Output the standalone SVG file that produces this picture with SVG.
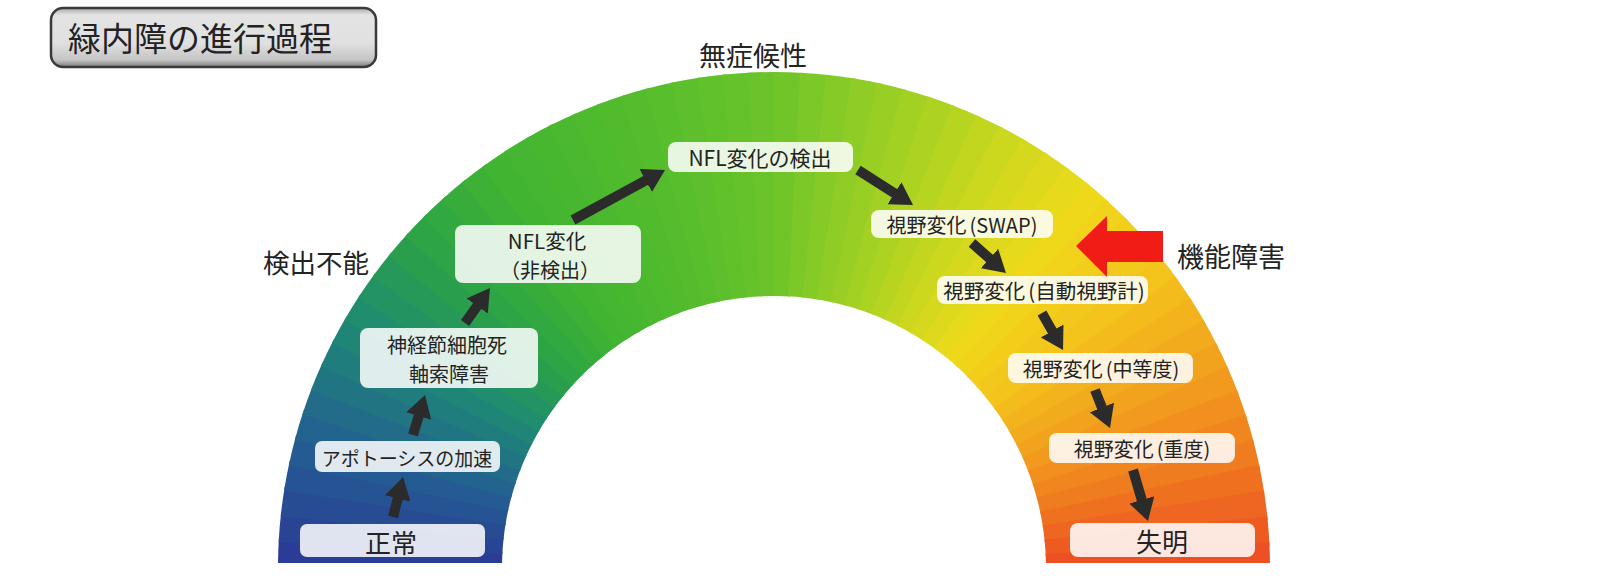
<svg xmlns="http://www.w3.org/2000/svg" width="1600" height="576" viewBox="0 0 1600 576">
<style>
.box{fill:#ffffff;fill-opacity:0.86}
.t{font-family:"Noto Sans CJK JP","Noto Sans",sans-serif;fill:#232323;text-anchor:middle;dominant-baseline:central}
.arrow{stroke:#2b2b2b;stroke-width:10;fill:none;marker-end:url(#ah)}
</style>
<defs>
<path id="w" d="M-496,0A496,496 0 0 1 -495.07,-30.28L-271.49,-16.61A272,272 0 0 0 -272,0Z"/>
<clipPath id="cl"><rect x="0" y="0" width="1600" height="563"/></clipPath>
<marker id="ah" markerUnits="userSpaceOnUse" markerWidth="24" markerHeight="26" refX="10" refY="13" orient="auto" viewBox="0 0 24 26"><path d="M0,0L22,13L0,26Z" fill="#2b2b2b"/></marker>
<linearGradient id="tg" x1="0" y1="0" x2="0" y2="1">
<stop offset="0" stop-color="#a8a8a8"/><stop offset="0.12" stop-color="#e4e4e4"/><stop offset="0.6" stop-color="#e0e0e0"/><stop offset="0.88" stop-color="#c4c4c4"/><stop offset="1" stop-color="#7a7a7a"/>
</linearGradient>
</defs>
<rect width="1600" height="576" fill="#ffffff"/>

<g id="arch" clip-path="url(#cl)">
<g transform="translate(774,568)">
<use href="#w" transform="rotate(0)" fill="#2a3c96"/>
<use href="#w" transform="rotate(3)" fill="#294495"/>
<use href="#w" transform="rotate(6)" fill="#274c94"/>
<use href="#w" transform="rotate(9)" fill="#255393"/>
<use href="#w" transform="rotate(12)" fill="#245b92"/>
<use href="#w" transform="rotate(15)" fill="#23638f"/>
<use href="#w" transform="rotate(18)" fill="#226c89"/>
<use href="#w" transform="rotate(21)" fill="#217583"/>
<use href="#w" transform="rotate(24)" fill="#207d7d"/>
<use href="#w" transform="rotate(27)" fill="#1f8677"/>
<use href="#w" transform="rotate(30)" fill="#208d6f"/>
<use href="#w" transform="rotate(33)" fill="#239364"/>
<use href="#w" transform="rotate(36)" fill="#269959"/>
<use href="#w" transform="rotate(39)" fill="#299f4e"/>
<use href="#w" transform="rotate(42)" fill="#2da446"/>
<use href="#w" transform="rotate(45)" fill="#32a840"/>
<use href="#w" transform="rotate(48)" fill="#37ac3b"/>
<use href="#w" transform="rotate(51)" fill="#3cb136"/>
<use href="#w" transform="rotate(54)" fill="#41b432"/>
<use href="#w" transform="rotate(57)" fill="#44b631"/>
<use href="#w" transform="rotate(60)" fill="#47b730"/>
<use href="#w" transform="rotate(63)" fill="#4bb82f"/>
<use href="#w" transform="rotate(66)" fill="#4eba2e"/>
<use href="#w" transform="rotate(69)" fill="#51bb2d"/>
<use href="#w" transform="rotate(72)" fill="#54bc2d"/>
<use href="#w" transform="rotate(75)" fill="#58be2c"/>
<use href="#w" transform="rotate(78)" fill="#5dbf2b"/>
<use href="#w" transform="rotate(81)" fill="#61c12b"/>
<use href="#w" transform="rotate(84)" fill="#65c22b"/>
<use href="#w" transform="rotate(87)" fill="#6ac32a"/>
<use href="#w" transform="rotate(90)" fill="#71c529"/>
<use href="#w" transform="rotate(93)" fill="#7bc828"/>
<use href="#w" transform="rotate(96)" fill="#85ca27"/>
<use href="#w" transform="rotate(99)" fill="#8fcc26"/>
<use href="#w" transform="rotate(102)" fill="#99cf25"/>
<use href="#w" transform="rotate(105)" fill="#a3d123"/>
<use href="#w" transform="rotate(108)" fill="#add322"/>
<use href="#w" transform="rotate(111)" fill="#b7d520"/>
<use href="#w" transform="rotate(114)" fill="#c2d61f"/>
<use href="#w" transform="rotate(117)" fill="#ccd81e"/>
<use href="#w" transform="rotate(120)" fill="#d5d81d"/>
<use href="#w" transform="rotate(123)" fill="#ded91c"/>
<use href="#w" transform="rotate(126)" fill="#e7d91b"/>
<use href="#w" transform="rotate(129)" fill="#efd81a"/>
<use href="#w" transform="rotate(132)" fill="#f1d31b"/>
<use href="#w" transform="rotate(135)" fill="#f2ce1b"/>
<use href="#w" transform="rotate(138)" fill="#f3c81c"/>
<use href="#w" transform="rotate(141)" fill="#f4c31c"/>
<use href="#w" transform="rotate(144)" fill="#f4bb1d"/>
<use href="#w" transform="rotate(147)" fill="#f3b31d"/>
<use href="#w" transform="rotate(150)" fill="#f3ab1e"/>
<use href="#w" transform="rotate(153)" fill="#f2a31e"/>
<use href="#w" transform="rotate(156)" fill="#f29a1e"/>
<use href="#w" transform="rotate(159)" fill="#f1901f"/>
<use href="#w" transform="rotate(162)" fill="#f1861f"/>
<use href="#w" transform="rotate(165)" fill="#f07c20"/>
<use href="#w" transform="rotate(168)" fill="#ef7120"/>
<use href="#w" transform="rotate(171)" fill="#ee6621"/>
<use href="#w" transform="rotate(174)" fill="#ed5b21"/>
<use href="#w" transform="rotate(177)" fill="#ed5022"/>
</g>
</g>

<g id="title">
<rect x="51" y="8" width="325" height="59" rx="12" fill="url(#tg)" stroke="#3a3a3a" stroke-width="2.5"/>
<text class="t" x="68" y="37" font-size="33" style="text-anchor:start">緑内障の進行過程</text>
</g>

<g id="label-asymptomatic"><text class="t" x="753" y="54" font-size="27">無症候性</text></g>
<g id="label-undetectable"><text class="t" x="316" y="261" font-size="26.5">検出不能</text></g>

<g id="node-normal">
<rect class="box" x="300" y="524" width="185" height="33" rx="7"/>
<text class="t" x="391" y="541" font-size="26">正常</text>
</g>
<g id="node-apoptosis">
<rect class="box" x="315" y="441" width="185" height="31" rx="7"/>
<text class="t" x="407" y="457" font-size="19">アポトーシスの加速</text>
</g>
<g id="node-ganglion">
<rect class="box" x="360" y="328" width="178" height="60" rx="8"/>
<text class="t" x="447" y="344" font-size="20">神経節細胞死</text>
<text class="t" x="449" y="373" font-size="20">軸索障害</text>
</g>
<g id="node-nfl">
<rect class="box" x="455" y="225" width="186" height="58" rx="8"/>
<text class="t" x="547" y="240" font-size="20.5">NFL変化</text>
<text class="t" x="550" y="269" font-size="20">（非検出）</text>
</g>
<g id="node-nfl-detect">
<rect class="box" x="668" y="142" width="185" height="30" rx="8"/>
<text class="t" x="760" y="157" font-size="21">NFL変化の検出</text>
</g>
<g id="node-swap">
<rect class="box" x="871" y="210" width="182" height="28" rx="8"/>
<text class="t" x="962" y="224" font-size="20">視野変化<tspan dx="3">(</tspan>SWAP<tspan>)</tspan></text>
</g>
<g id="node-auto">
<rect class="box" x="937" y="276" width="211" height="28" rx="8"/>
<text class="t" x="1044" y="290" font-size="20.5">視野変化<tspan dx="3">(</tspan>自動視野計<tspan>)</tspan></text>
</g>
<g id="node-moderate">
<rect class="box" x="1008" y="353" width="185" height="30" rx="8"/>
<text class="t" x="1101" y="368" font-size="20">視野変化<tspan dx="3">(</tspan>中等度<tspan>)</tspan></text>
</g>
<g id="node-severe">
<rect class="box" x="1049" y="433" width="186" height="30" rx="8"/>
<text class="t" x="1142" y="448" font-size="20">視野変化<tspan dx="3">(</tspan>重度<tspan>)</tspan></text>
</g>
<g id="node-blind">
<rect class="box" x="1070" y="523" width="185" height="34" rx="8"/>
<text class="t" x="1162" y="540" font-size="26">失明</text>
</g>

<g id="connectors">
<line class="arrow" x1="393" y1="517" x2="400.2" y2="488.7"/>
<line class="arrow" x1="413" y1="435" x2="421.6" y2="406.5"/>
<line class="arrow" x1="465" y1="323" x2="483" y2="297.8"/>
<line class="arrow" x1="573" y1="220" x2="654.5" y2="175.7"/>
<line class="arrow" x1="858" y1="170" x2="902.9" y2="198.6"/>
<line class="arrow" x1="972" y1="243" x2="997" y2="265.1"/>
<line class="arrow" x1="1042" y1="313" x2="1057.1" y2="339.6"/>
<line class="arrow" x1="1095" y1="390" x2="1105.6" y2="416.8"/>
<line class="arrow" x1="1133" y1="470" x2="1144.6" y2="509.5"/>
</g>

<g id="dysfunction">
<polygon points="1076,246 1107,216 1107,231 1163,231 1163,262 1107,262 1107,277" fill="#f21c16"/>
<text class="t" x="1231" y="255" font-size="27">機能障害</text>
</g>
</svg>
